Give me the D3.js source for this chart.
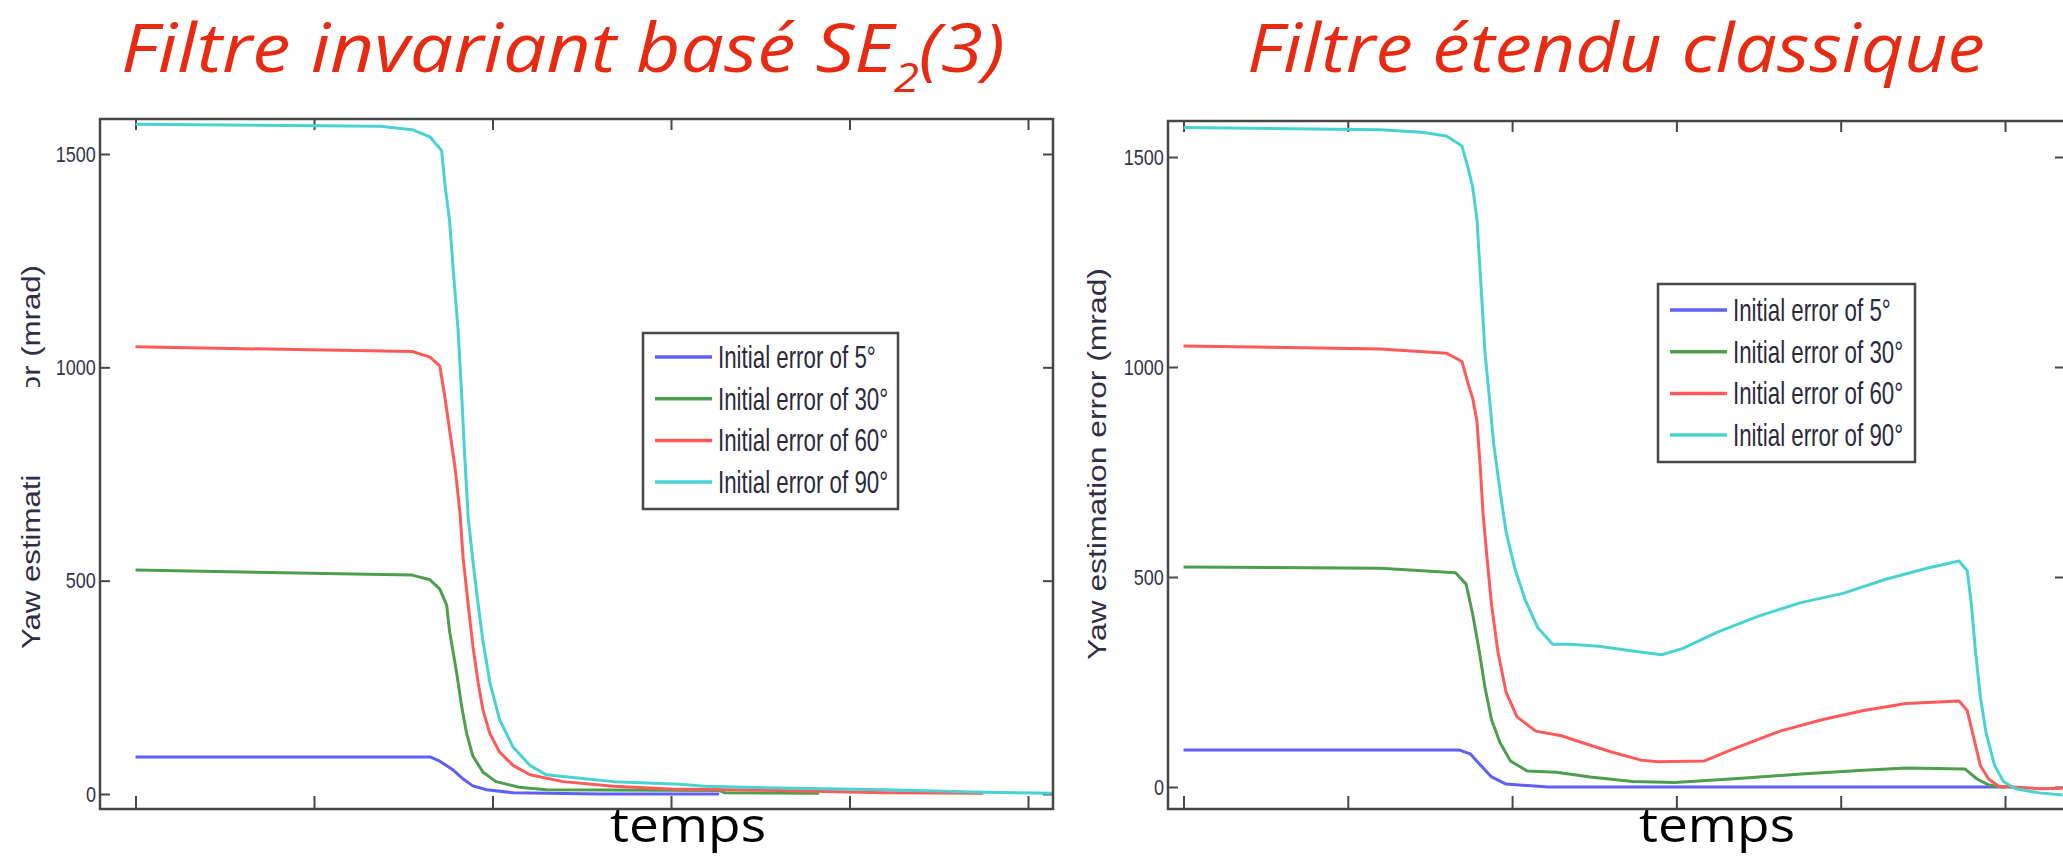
<!DOCTYPE html>
<html>
<head>
<meta charset="utf-8">
<script src="https://cdn.jsdelivr.net/npm/d3@7"></script>
<style>
  html, body { margin: 0; padding: 0; background: #fff; }
  svg { display: block; }
</style>
</head>
<body>
<div id="chart"></div>
<script>
// ---------- DATA ----------
// time is in tick units (6 unlabeled ticks, 0..5), values in mrad
const titles = ["Filtre invariant basé SE", "Filtre étendu classique"];
const xLabel = "temps";
const yLabel = "Yaw estimation error (mrad)";
const yTicks = [0, 500, 1000, 1500];
const xTicks = [0, 1, 2, 3, 4, 5];
const seriesNames = ["Initial error of 5°", "Initial error of 30°", "Initial error of 60°", "Initial error of 90°"];
const seriesColors = ["#5f5ff6", "#4d9e4d", "#ff5a5a", "#48d2d2"];

// left panel: invariant filter
const inv5 = [[0,87],[1.65,87],[1.705,77],[1.78,56],[1.836,35],[1.89,19],[1.967,10],[2.115,3],[2.6,0],[3.27,0]];
const inv30 = [[0,525],[1.55,513],[1.65,502],[1.705,480],[1.743,443],[1.76,380],[1.8,282],[1.827,206],[1.855,142],[1.89,89],[1.947,51],[2.02,29],[2.15,16],[2.3,10],[3.27,8],[3.3,3],[3.83,2]];
const inv60 = [[0,1048],[1.55,1037],[1.65,1024],[1.705,1003],[1.734,928],[1.76,852],[1.79,766],[1.818,658],[1.836,551],[1.864,443],[1.89,347],[1.92,260],[1.947,196],[1.985,142],[2.04,98],[2.115,67],[2.21,45],[2.395,29],[2.68,18],[3.0,12],[3.6,8],[4.2,3],[4.75,2]];
const inv90 = [[0,1570],[1.37,1565],[1.55,1557],[1.65,1540],[1.715,1508],[1.734,1427],[1.76,1341],[1.78,1228],[1.807,1089],[1.827,938],[1.845,787],[1.864,647],[1.892,540],[1.92,443],[1.947,357],[1.986,260],[2.04,174],[2.115,110],[2.21,67],[2.3,45],[2.49,37],[2.68,29],[3.05,23],[3.19,18],[3.6,14],[4.2,10],[4.75,4],[5.14,2]];

// right panel: classic extended filter
const ekf5 = [[0,88],[1.68,88],[1.745,79],[1.81,51],[1.875,24],[1.963,7],[2.22,0],[5.0,0]];
const ekf30 = [[0,524],[1.2,521],[1.656,510],[1.72,483],[1.76,412],[1.8,324],[1.835,237],[1.875,160],[1.926,106],[1.99,62],[2.092,38],[2.27,35],[2.476,24],[2.733,13],[2.99,11],[3.375,20],[3.758,31],[4.14,40],[4.397,45],[4.756,43],[4.83,19],[4.9,5],[4.99,0],[5.05,0]];
const ekf60 = [[0,1050],[1.2,1043],[1.6,1033],[1.695,1013],[1.734,958],[1.76,926],[1.786,871],[1.806,762],[1.823,652],[1.848,543],[1.875,433],[1.913,324],[1.963,226],[2.03,167],[2.144,133],[2.3,122],[2.425,106],[2.6,84],[2.785,64],[2.89,60],[3.17,62],[3.375,95],[3.63,133],[3.886,160],[4.14,182],[4.397,199],[4.72,205],[4.77,182],[4.81,117],[4.85,51],[4.9,19],[4.963,2],[5.21,-4],[5.35,-3]];
const ekf90 = [[0,1570],[1.196,1565],[1.45,1559],[1.6,1550],[1.695,1526],[1.734,1471],[1.76,1428],[1.786,1352],[1.81,1198],[1.835,1034],[1.862,926],[1.888,817],[1.926,707],[1.963,608],[2.016,521],[2.08,445],[2.157,379],[2.247,340],[2.35,340],[2.53,335],[2.733,324],[2.91,315],[3.04,330],[3.246,368],[3.5,407],[3.758,439],[4.014,461],[4.27,494],[4.525,521],[4.72,538],[4.77,515],[4.796,433],[4.82,324],[4.85,215],[4.885,128],[4.937,51],[4.99,13],[5.065,-4],[5.21,-14],[5.35,-19]];

// ---------- LAYOUT ----------
const size = { w: 2063, h: 861 };
const panels = [
	{
		series: [inv5, inv30, inv60, inv90],
		frame: { x0: 100, x1: 1053, y0: 119, y1: 809 },
		xRange: [135.5, 1028],
		yRange: [794, 154],
		title: { cx: 563, w: 884, sub: "2", rest: "(3)" },
		legend: { x: 643, y: 333, w: 255, h: 176, row0: 24, rowStep: 41.7 },
		yLab: { x: 40, cy: 457, len: 384, mask: [8, 387, 42, 88] },
		temps: 688,
	},
	{
		series: [ekf5, ekf30, ekf60, ekf90],
		frame: { x0: 1168, x1: 2065, y0: 121, y1: 809 },
		xRange: [1183.5, 2005],
		yRange: [787, 157],
		title: { cx: 1616, w: 738 },
		legend: { x: 1658, y: 284, w: 257, h: 178, row0: 26, rowStep: 41.7 },
		yLab: { x: 1106, cy: 464, len: 392 },
		temps: 1717,
	},
];

const svg = d3
	.select("#chart")
	.append("svg")
	.attr("width", size.w)
	.attr("height", size.h);
svg.append("rect").attr("width", size.w).attr("height", size.h).attr("fill", "#fff");

// stretch a text horizontally so it spans the target width
function fitWidth(text, target) {
	const w = text.node().getComputedTextLength();
	text.attr("transform", `scale(${target / w},1)`);
}

panels.forEach((p, pi) => {
	const g = svg.append("g").classed(`panel__${pi}`, true);
	const xScale = d3.scaleLinear().domain([0, 5]).range(p.xRange);
	const yScale = d3.scaleLinear().domain([0, 1500]).range(p.yRange);
	const f = p.frame;

	// title
	const tg = g.append("g").attr("transform", `translate(${p.title.cx},72)`);
	const title = tg
		.append("text")
		.attr("text-anchor", "middle")
		.attr("font-family", "'Open Sans', sans-serif")
		.attr("font-style", "italic")
		.attr("font-size", 68)
		.attr("fill", "#e62b12");
	title.append("tspan").text(titles[pi]);
	if (p.title.sub) {
		title.append("tspan").attr("font-size", 40).attr("dy", 20).text(p.title.sub);
		title.append("tspan").attr("dy", -20).text(p.title.rest);
	}
	fitWidth(title, p.title.w);

	// clip for curves
	svg.append("clipPath")
		.attr("id", `clip${pi}`)
		.append("rect")
		.attr("x", f.x0)
		.attr("y", f.y0)
		.attr("width", f.x1 - f.x0)
		.attr("height", f.y1 - f.y0);

	// axes (ticks point inwards, like the original plot)
	const axisStyle = (ax) => {
		ax.select(".domain").remove();
		ax.selectAll(".tick line").attr("stroke", "#474747").attr("stroke-width", 2);
	};
	g.append("g")
		.attr("transform", `translate(${f.x0},0)`)
		.call(
			d3.axisLeft(yScale)
				.tickValues(yTicks)
				.tickFormat(d3.format("d"))
				.tickSizeInner(-10)
				.tickSizeOuter(0)
				.tickPadding(5)
		)
		.call(axisStyle)
		.call((ax) =>
			ax.selectAll("text")
				.attr("font-family", "'Liberation Sans', Arial, sans-serif")
				.attr("font-size", 22)
				.attr("fill", "#34334a")
				.attr("transform", "scale(0.82,1)")
		);
	g.append("g")
		.attr("transform", `translate(${f.x1},0)`)
		.call(d3.axisRight(yScale).tickValues(yTicks).tickSizeInner(-10).tickSizeOuter(0).tickFormat(""))
		.call(axisStyle);
	g.append("g")
		.attr("transform", `translate(0,${f.y1})`)
		.call(d3.axisBottom(xScale).tickValues(xTicks).tickSizeInner(-13).tickSizeOuter(0).tickFormat(""))
		.call(axisStyle);
	g.append("g")
		.attr("transform", `translate(0,${f.y0})`)
		.call(d3.axisTop(xScale).tickValues(xTicks).tickSizeInner(-11).tickSizeOuter(0).tickFormat(""))
		.call(axisStyle);

	// curves
	const line = d3
		.line()
		.x((d) => xScale(d[0]))
		.y((d) => yScale(d[1]));
	g.append("g")
		.attr("clip-path", `url(#clip${pi})`)
		.selectAll("path")
		.data(p.series)
		.enter()
		.append("path")
		.attr("d", line)
		.attr("fill", "none")
		.attr("stroke", (d, i) => seriesColors[i])
		.attr("stroke-width", 3)
		.attr("stroke-linejoin", "round");

	// frame
	g.append("rect")
		.attr("x", f.x0)
		.attr("y", f.y0)
		.attr("width", f.x1 - f.x0)
		.attr("height", f.y1 - f.y0)
		.attr("fill", "none")
		.attr("stroke", "#474747")
		.attr("stroke-width", 2.5);

	// y label
	const yg = g.append("g").attr("transform", `translate(${p.yLab.x},${p.yLab.cy}) rotate(-90)`);
	const yl = yg
		.append("text")
		.attr("text-anchor", "middle")
		.attr("font-family", "'Liberation Sans', Arial, sans-serif")
		.attr("font-size", 25)
		.attr("fill", "#2f2e44")
		.text(yLabel);
	fitWidth(yl, p.yLab.len);
	if (p.yLab.mask) {
		const m = p.yLab.mask;
		g.append("rect").attr("x", m[0]).attr("y", m[1]).attr("width", m[2]).attr("height", m[3]).attr("fill", "#fff");
	}

	// legend
	const L = p.legend;
	const lg = g.append("g").attr("transform", `translate(${L.x},${L.y})`);
	lg.append("rect")
		.attr("width", L.w)
		.attr("height", L.h)
		.attr("fill", "#fff")
		.attr("stroke", "#474747")
		.attr("stroke-width", 2.5);
	seriesNames.forEach((name, i) => {
		const ry = L.row0 + i * L.rowStep;
		lg.append("line")
			.attr("x1", 12)
			.attr("x2", 69)
			.attr("y1", ry)
			.attr("y2", ry)
			.attr("stroke", seriesColors[i])
			.attr("stroke-width", 3.5);
		lg.append("g")
			.attr("transform", `translate(75,${ry + 11})`)
			.append("text")
			.attr("font-family", "'Liberation Sans', Arial, sans-serif")
			.attr("font-size", 31)
			.attr("fill", "#2a2a3c")
			.attr("transform", "scale(0.72,1)")
			.text(name);
	});

	// x label
	const xl = g
		.append("g")
		.attr("transform", `translate(${p.temps},842)`)
		.append("text")
		.attr("text-anchor", "middle")
		.attr("font-family", "'Open Sans', sans-serif")
		.attr("font-size", 48)
		.attr("fill", "#000")
		.text(xLabel);
	fitWidth(xl, 156);
});
</script>
</body>
</html>
